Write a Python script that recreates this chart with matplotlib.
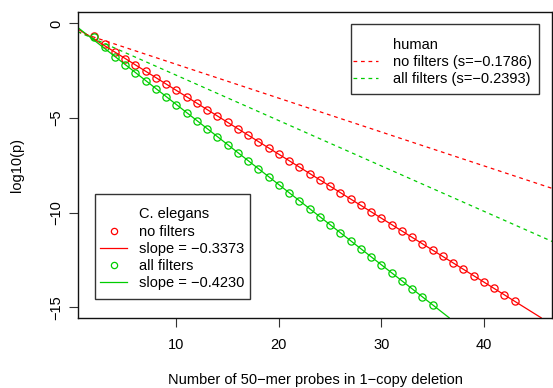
import numpy as np
import matplotlib
matplotlib.use("Agg")
from matplotlib import pyplot as plt
from matplotlib.lines import Line2D
from matplotlib.patches import Rectangle

plt.rcParams['font.family'] = ['Liberation Sans', 'DejaVu Sans']
plt.rcParams['font.size'] = 10.5

# C. elegans observed log10(p), one point per probe count
x_nofilt = list(range(2, 44))
y_nofilt = [-0.66, -1.09, -1.50, -1.88, -2.19, -2.53, -2.87, -3.21, -3.54, -3.88,
            -4.22, -4.55, -4.89, -5.23, -5.57, -5.90, -6.24, -6.58, -6.92, -7.25,
            -7.59, -7.93, -8.27, -8.60, -8.94, -9.28, -9.61, -9.95, -10.29, -10.63,
            -10.96, -11.30, -11.64, -11.98, -12.31, -12.65, -12.99, -13.32, -13.66,
            -14.00, -14.34, -14.67]
x_allfilt = list(range(2, 36))
y_allfilt = [-0.72, -1.27, -1.76, -2.22, -2.64, -3.02, -3.44, -3.87, -4.29, -4.71,
             -5.14, -5.56, -5.98, -6.41, -6.83, -7.25, -7.67, -8.10, -8.52, -8.94,
             -9.37, -9.79, -10.21, -10.64, -11.06, -11.48, -11.90, -12.33, -12.75,
             -13.17, -13.60, -14.02, -14.44, -14.86]

# fitted lines (intercept, slope)
ce_nofilt_fit = (-0.17, -0.3373)
ce_allfilt_fit = (-0.06, -0.4230)
hs_nofilt_fit = (-0.38, -0.1786)
hs_allfilt_fit = (-0.35, -0.2393)

RED = '#FF0000'
GREEN = '#00CD00'
MINUS = '\u2212'
W, H = 553, 388

fig = plt.figure(figsize=(W / 100, H / 100), dpi=100)
ax = fig.add_axes([0.1405, 0.181, 0.8585, 0.788])

ax.plot(x_nofilt, y_nofilt, 'o', mfc='none', mec=RED, ms=5.2, mew=0.9)
ax.plot(x_allfilt, y_allfilt, 'o', mfc='none', mec=GREEN, ms=5.2, mew=0.9)
ax.axline((0, ce_nofilt_fit[0]), slope=ce_nofilt_fit[1], color=RED, lw=0.9)
ax.axline((0, ce_allfilt_fit[0]), slope=ce_allfilt_fit[1], color=GREEN, lw=0.9)
ax.axline((0, hs_nofilt_fit[0]), slope=hs_nofilt_fit[1], color=RED, lw=0.9,
          dashes=(3, 3))
ax.axline((0, hs_allfilt_fit[0]), slope=hs_allfilt_fit[1], color=GREEN, lw=0.9,
          dashes=(3, 3))

ax.set_xlim(0.36, 46.7)
ax.set_ylim(-15.55, 0.6)
ax.set_xticks([10, 20, 30, 40])
ax.set_yticks([0, -5, -10, -15])
ax.set_yticklabels(['0', MINUS + '5', MINUS + '10', MINUS + '15'])
ax.tick_params(direction='out', length=6.5, width=0.8, color='#333333')
ax.tick_params(axis='x', pad=8)
ax.tick_params(axis='y', pad=4, labelrotation=90)
for t in ax.get_yticklabels():
    t.set_va('center')
for s in ax.spines.values():
    s.set_linewidth(1.0)
    s.set_color('#111111')

ax.set_xlabel('Number of 50\u2212mer probes in 1\u2212copy deletion')
ax.xaxis.set_label_coords(0.5, -0.204)
ax.xaxis.label.set_va('center')
ax.set_ylabel('log10(p)')
ax.yaxis.set_label_coords(-0.128, 0.5)
ax.yaxis.label.set_va('center')


def legend_box(x0, y0, x1, y1):
    # R-style legend frame, given in pixels from the top left
    fig.patches.append(Rectangle((x0 / W, 1 - y1 / H), (x1 - x0) / W,
                                 (y1 - y0) / H, transform=fig.transFigure,
                                 fc='white', ec='#333333', lw=1.0, zorder=1))


blank = Line2D([], [], linestyle='none')
hs_handles = [blank,
              Line2D([], [], color=RED, lw=0.9, dashes=(3, 3)),
              Line2D([], [], color=GREEN, lw=0.9, dashes=(3, 3))]
hs_labels = ['human', 'no filters (s=' + MINUS + '0.1786)',
             'all filters (s=' + MINUS + '0.2393)']
legend_box(350.7, 24, 539, 94)
fig.legend(hs_handles, hs_labels, loc='upper left',
           bbox_to_anchor=(347.7 / W, 1 - 32.7 / H), borderaxespad=0,
           frameon=False, handlelength=1.75, handletextpad=1.0,
           borderpad=0.35, labelspacing=0.22)

ce_handles = [blank,
              Line2D([], [], linestyle='none', marker='o', mfc='none', mec=RED,
                     ms=4.5, mew=0.9),
              Line2D([], [], color=RED, lw=0.9),
              Line2D([], [], linestyle='none', marker='o', mfc='none', mec=GREEN,
                     ms=4.5, mew=0.9),
              Line2D([], [], color=GREEN, lw=0.9)]
ce_labels = ['C. elegans', 'no filters', 'slope = ' + MINUS + '0.3373',
             'all filters', 'slope = ' + MINUS + '0.4230']
legend_box(95, 194, 250, 298.7)
fig.legend(ce_handles, ce_labels, loc='upper left',
           bbox_to_anchor=(95 / W, 1 - 202.3 / H), borderaxespad=0,
           frameon=False, handlelength=1.85, handletextpad=0.85,
           borderpad=0.35, labelspacing=0.22, numpoints=1)

fig.savefig('out.png', dpi=100)
